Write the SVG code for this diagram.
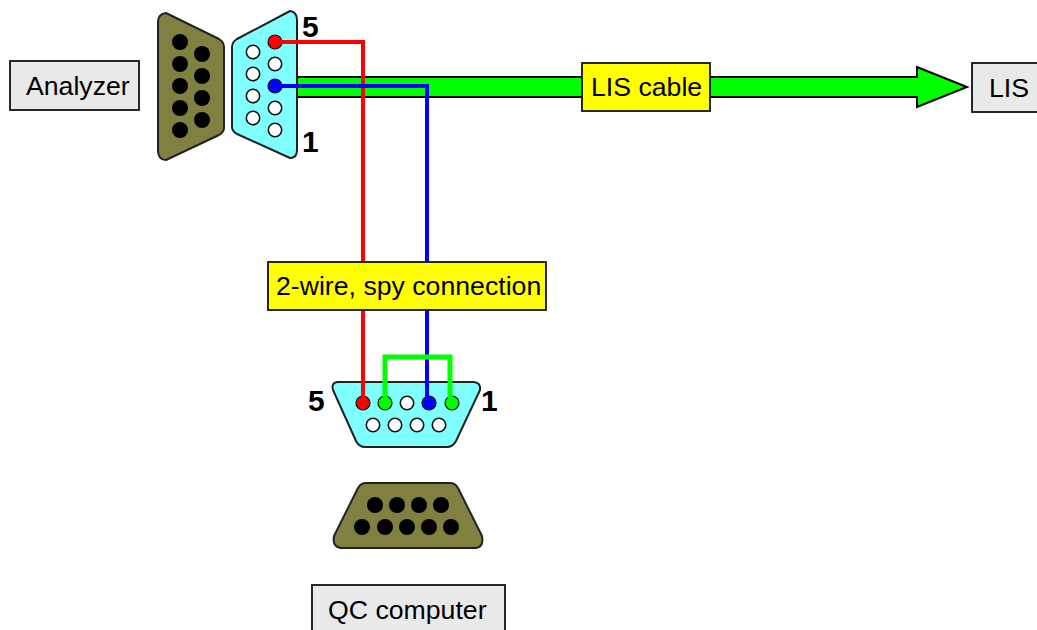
<svg xmlns="http://www.w3.org/2000/svg" width="1037" height="630" viewBox="0 0 1037 630">
<defs>
<style>
text{font-family:"Liberation Sans",Arial,sans-serif;font-size:26.67px;fill:#000}
.box{fill:#e9e9e9;stroke:#111;stroke-width:1.8}
.tag{fill:#ffff00;stroke:#111;stroke-width:1.8}
.olive{fill:#808040;stroke:#222;stroke-width:2;stroke-linejoin:round}
.cyan{fill:#80ffff;stroke:#222;stroke-width:2;stroke-linejoin:round}
.num{font-size:30px;font-weight:bold}
.w{fill:none;stroke-width:4;stroke-linejoin:miter}
</style>
<circle id="b" r="8" fill="#000"/>
<circle id="o" r="6.7" fill="#fff" stroke="#111" stroke-width="1.6"/>
</defs>
<rect width="1037" height="630" fill="#fff"/>
<g id="analyzer"><rect class="box" x="10" y="61" width="129" height="49"/><text x="26" y="95">Analyzer</text></g>
<g id="lis"><rect class="box" x="972" y="63" width="70" height="49"/><text x="989" y="97">LIS</text></g>
<g id="qc-computer"><rect class="box" x="312" y="585" width="193" height="50"/><text x="328" y="619">QC computer</text></g>
<g id="conn-analyzer-male">
<path class="olive" d="M158 22Q158 14 166 13L219 39Q224 42 224 47V128Q224 132 219 135L166 160Q159 160 158 152Z"/>
<use href="#b" x="180" y="42"/><use href="#b" x="180" y="64"/><use href="#b" x="180" y="86"/><use href="#b" x="180" y="108"/><use href="#b" x="180" y="130"/>
<use href="#b" x="202" y="54"/><use href="#b" x="202" y="76"/><use href="#b" x="202" y="98"/><use href="#b" x="202" y="120"/>
</g>
<g id="cable">
<path d="M296 77H917V67L967 87L917 107V97H296Z" fill="#00ff00" stroke="#000" stroke-width="2"/>
</g>
<g id="conn-analyzer-female">
<path class="cyan" d="M232 47Q232 42 237 39L290 11Q297 12 297 20V150Q297 158 290 158L237 134Q232 131 232 127Z"/>
<use href="#o" x="253" y="52"/><use href="#o" x="253" y="74"/><use href="#o" x="253" y="96"/><use href="#o" x="253" y="118"/>
<use href="#o" x="275" y="64"/><use href="#o" x="275" y="108"/><use href="#o" x="275" y="130"/>
<circle cx="275" cy="42" r="7" fill="#ff0000" stroke="#111" stroke-width="1.2"/><circle cx="275" cy="86" r="7" fill="#0000ff" stroke="#111" stroke-width="1.2"/>
<text class="num" x="302" y="37">5</text><text class="num" x="302" y="152">1</text>
</g>
<g id="conn-qc-female">
<path class="cyan" d="M337 382H474Q481 383 480 390L456 441Q453 447 447 447H365Q359 447 356 441L333 390Q331 383 337 382Z"/>
<use href="#o" x="407" y="403"/>
<use href="#o" x="373" y="425"/><use href="#o" x="395" y="425"/><use href="#o" x="417" y="425"/><use href="#o" x="439" y="425"/>
<circle cx="363" cy="403" r="7" fill="#ff0000" stroke="#111" stroke-width="1.2"/><circle cx="385" cy="403" r="7" fill="#00ff00" stroke="#111" stroke-width="1.2"/><circle cx="429" cy="403" r="7" fill="#0000ff" stroke="#111" stroke-width="1.2"/><circle cx="452" cy="403" r="7" fill="#00ff00" stroke="#111" stroke-width="1.2"/>
<text class="num" x="308" y="411">5</text><text class="num" x="481" y="411">1</text>
</g>
<g id="conn-qc-male">
<path class="olive" d="M366 483H450Q455 483 458 488L482 536Q484 547 476 548H341Q332 547 334 536L358 488Q361 483 366 483Z"/>
<use href="#b" x="375" y="505"/><use href="#b" x="397" y="505"/><use href="#b" x="419" y="505"/><use href="#b" x="441" y="505"/>
<use href="#b" x="362" y="527"/><use href="#b" x="385" y="527"/><use href="#b" x="407" y="527"/><use href="#b" x="429" y="527"/><use href="#b" x="451" y="527"/>
</g>
<g id="connectors">
<path class="w" stroke="#ff0000" d="M275 42H363V403"/>
<path class="w" stroke="#0000ff" d="M275 86H427V403"/>
<path class="w" stroke="#00ff00" stroke-width="5" style="stroke-width:5" d="M385 403V357H450V403"/>
</g>
<g id="label-lis-cable"><rect class="tag" x="582" y="63" width="128" height="48"/><text x="591" y="96">LIS cable</text></g>
<g id="label-spy"><rect class="tag" x="268" y="262" width="278" height="48"/><text x="276" y="295">2-wire, spy connection</text></g>
</svg>
